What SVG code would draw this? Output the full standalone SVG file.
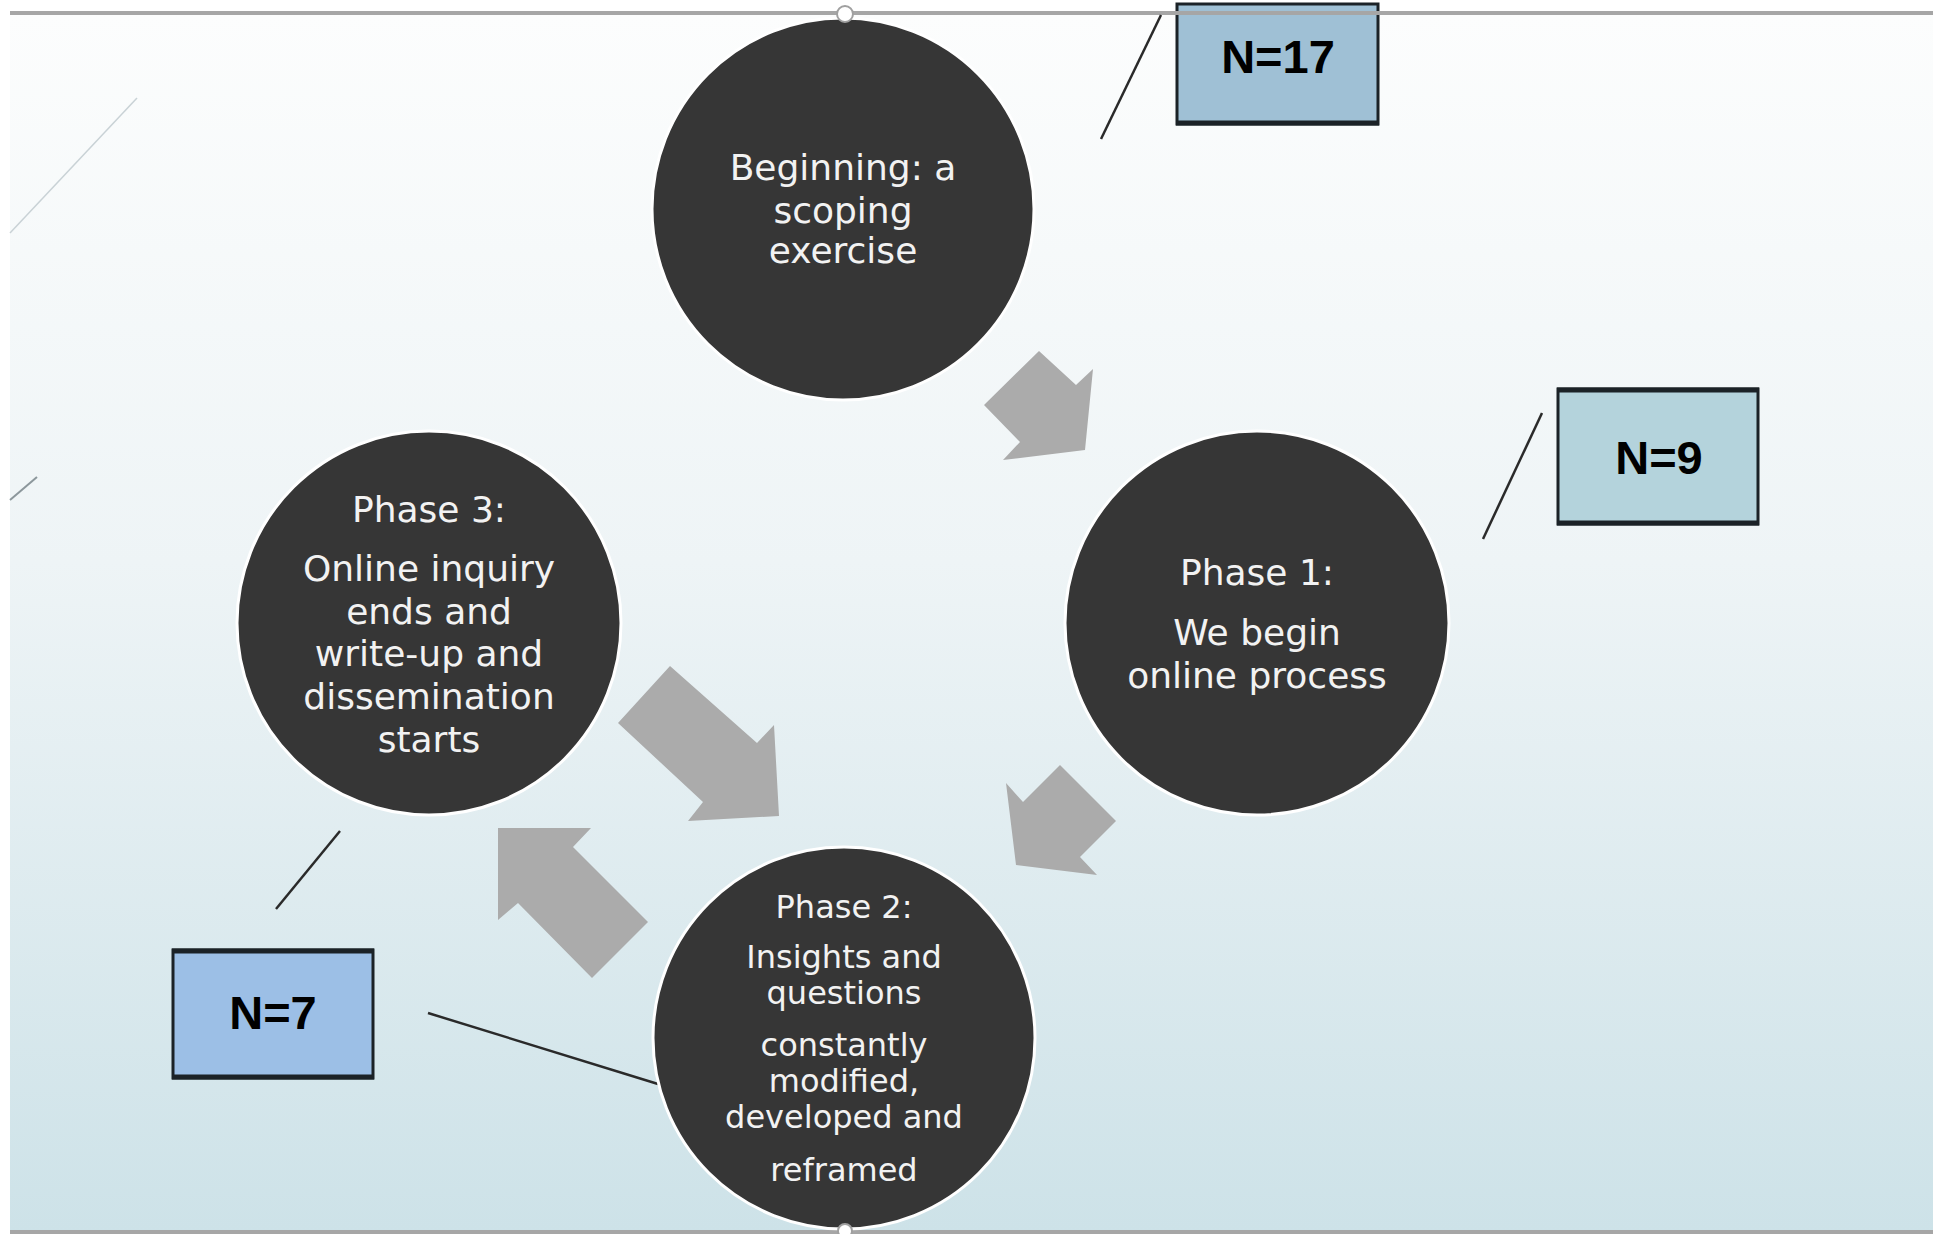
<svg xmlns="http://www.w3.org/2000/svg" width="1933" height="1234" viewBox="0 0 1933 1234">
  <defs>
    <linearGradient id="bg" x1="0" y1="0" x2="0" y2="1">
      <stop offset="0" stop-color="#fcfdfd"/>
      <stop offset="0.45" stop-color="#eef4f6"/>
      <stop offset="1" stop-color="#cde2e8"/>
    </linearGradient>
    <style>
      .circle { fill: #363636; stroke: #ffffff; stroke-width: 3; }
      .ct { font-family: "DejaVu Sans", "Liberation Sans", sans-serif; fill: #f2f2f2; text-anchor: middle; font-size: 36px; }
      .ct2 { font-family: "DejaVu Sans", "Liberation Sans", sans-serif; fill: #f2f2f2; text-anchor: middle; font-size: 32px; }
      .box { stroke: #1b2227; stroke-width: 3; }
      .boxbase { stroke: #1b2227; stroke-width: 5; }
      .nt { font-family: "Liberation Sans", Arial, sans-serif; font-weight: bold; font-size: 47px; fill: #000000; text-anchor: middle; }
      .link { stroke: #2a2a2a; stroke-width: 2.5; fill: none; }
      .arrow { fill: #ababab; }
      .rule { stroke: #a6a6a6; stroke-width: 4; }
      .handle { fill: #ffffff; stroke: #a0a0a0; stroke-width: 2; }
    </style>
  </defs>

  <rect x="0" y="0" width="1933" height="1234" fill="#ffffff"/>
  <rect x="10" y="15" width="1923" height="1216" fill="url(#bg)"/>

  <!-- faint decorative lines at top-left -->
  <line x1="137" y1="98" x2="10" y2="233" stroke="#c9d2d6" stroke-width="1.5"/>
  <line x1="37" y1="477" x2="10" y2="500" stroke="#8c979c" stroke-width="2"/>

  <g id="node-n17">
    <rect class="box" x="1177" y="4" width="201" height="120" fill="#9fc0d5"/>
    <line class="boxbase" x1="1176" y1="123" x2="1379" y2="123"/>
    <text class="nt" x="1278" y="73">N=17</text>
  </g>

  <line class="rule" x1="10" y1="13" x2="1933" y2="13"/>
  <line class="rule" x1="10" y1="1232" x2="1933" y2="1232"/>

  <g id="connectors">
    <line class="link" x1="1161" y1="15" x2="1101" y2="139"/>
    <line class="link" x1="1542" y1="413" x2="1483" y2="539"/>
    <line class="link" x1="340" y1="831" x2="276" y2="909"/>
    <line class="link" x1="428" y1="1013" x2="658" y2="1084"/>
    <polygon class="arrow" points="1039,351 984,405 1020,442 1003,460 1085,450 1093,369 1076,385"/>
    <polygon class="arrow" points="1060,765 1116,821 1080,857 1097,875 1016,865 1006,783 1023,802"/>
    <polygon class="arrow" points="670,666 618,723 703,802 688,821 779,816 774,725 757,743"/>
    <polygon class="arrow" points="498,828 591,828 573,847 648,922 592,978 518,903 498,920"/>
  </g>

  <g id="node-beginning">
    <circle class="circle" cx="843" cy="209" r="191"/>
    <text class="ct" x="843" y="180">Beginning: a</text>
    <text class="ct" x="843" y="223">scoping</text>
    <text class="ct" x="843" y="263">exercise</text>
  </g>

  <g id="node-phase1">
    <circle class="circle" cx="1257" cy="623" r="192"/>
    <text class="ct" x="1257" y="585">Phase 1:</text>
    <text class="ct" x="1257" y="645">We begin</text>
    <text class="ct" x="1257" y="688">online process</text>
  </g>

  <g id="node-phase3">
    <circle class="circle" cx="429" cy="623" r="192"/>
    <text class="ct" x="429" y="522">Phase 3:</text>
    <text class="ct" x="429" y="581">Online inquiry</text>
    <text class="ct" x="429" y="624">ends and</text>
    <text class="ct" x="429" y="666">write-up and</text>
    <text class="ct" x="429" y="709">dissemination</text>
    <text class="ct" x="429" y="752">starts</text>
  </g>

  <g id="node-phase2">
    <circle class="circle" cx="844" cy="1038" r="191"/>
    <text class="ct2" x="844" y="918">Phase 2:</text>
    <text class="ct2" x="844" y="968">Insights and</text>
    <text class="ct2" x="844" y="1004">questions</text>
    <text class="ct2" x="844" y="1056">constantly</text>
    <text class="ct2" x="844" y="1092">modified,</text>
    <text class="ct2" x="844" y="1128">developed and</text>
    <text class="ct2" x="844" y="1181">reframed</text>
  </g>

  <circle class="handle" cx="845" cy="14" r="8"/>
  <circle class="handle" cx="845" cy="1231" r="7"/>

  <g id="node-n9">
    <rect class="box" x="1558" y="389" width="200" height="135" fill="#b4d3dc"/>
    <line class="boxbase" x1="1557" y1="390" x2="1759" y2="390"/>
    <line class="boxbase" x1="1557" y1="523" x2="1759" y2="523"/>
    <text class="nt" x="1659" y="474">N=9</text>
  </g>

  <g id="node-n7">
    <rect class="box" x="173" y="950" width="200" height="128" fill="#9cbfe6"/>
    <line class="boxbase" x1="172" y1="951" x2="374" y2="951"/>
    <line class="boxbase" x1="172" y1="1077" x2="374" y2="1077"/>
    <text class="nt" x="273" y="1029">N=7</text>
  </g>
</svg>
